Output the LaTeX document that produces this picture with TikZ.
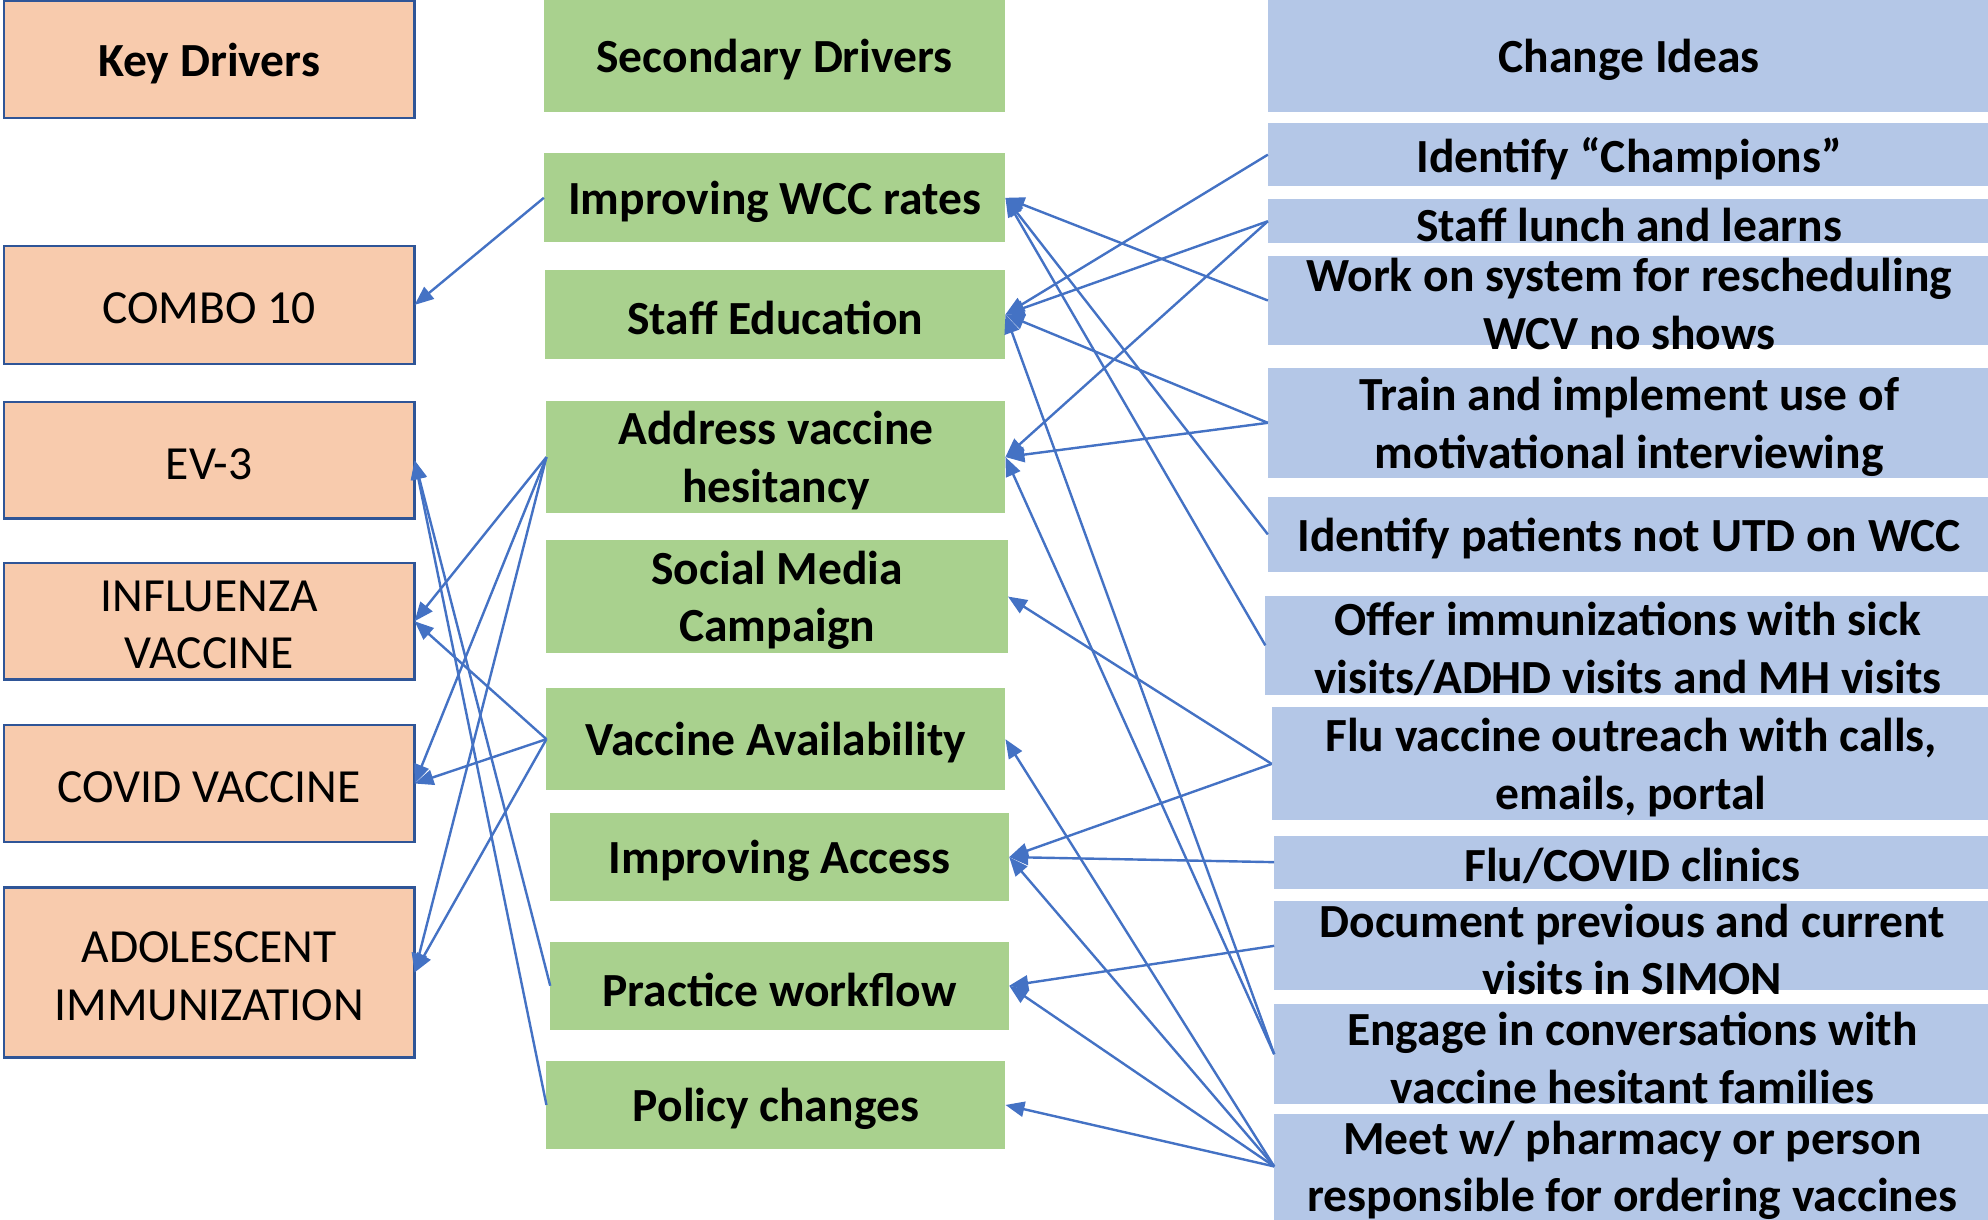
\documentclass[tikz,border=0pt]{standalone}
\usepackage{fontspec}
\setmainfont{Carlito}
\usetikzlibrary{arrows.meta}
\definecolor{peach}{HTML}{F8CBAD}
\definecolor{sgreen}{HTML}{A9D18E}
\definecolor{cblue}{HTML}{B4C7E7}
\definecolor{kborder}{HTML}{2F5597}
\definecolor{arrowblue}{HTML}{4472C4}
\begin{document}
\begin{tikzpicture}[x=1pt,y=-1pt,
  kbox/.style={draw=kborder, line width=1.8pt, fill=peach, inner sep=0pt, outer sep=0pt, minimum width=324pt},
  sbox/.style={fill=sgreen, inner sep=0pt, outer sep=0pt},
  cbox/.style={fill=cblue, inner sep=0pt, outer sep=0pt},
  ktext/.style={font=\fontsize{37.5}{45.5}\selectfont, align=center, inner sep=0pt, yshift=-3pt},
  btext/.style={font=\fontsize{37.5}{45.5}\selectfont\bfseries, align=center, inner sep=0pt, yshift=-3pt},
  conn/.style={draw=arrowblue, line width=1.9pt, -{Triangle[length=15pt,width=12pt]}}]
\useasboundingbox (0,0) rectangle (1568,961.5);
\clip (0,0) rectangle (1568,961.5);

% Key drivers
\node[kbox, minimum height=92pt, label={[btext]center:Key Drivers}] (kd) at (165,47) {};
\node[kbox, minimum height=93pt, label={[ktext]center:COMBO 10}] (combo) at (165,240.5) {};
\node[kbox, minimum height=92pt, label={[ktext]center:EV-3}] (ev) at (165,363) {};
\node[kbox, minimum height=92pt, label={[ktext]center:{INFLUENZA\\VACCINE}}] (flu) at (165,490) {};
\node[kbox, minimum height=92pt, label={[ktext]center:COVID VACCINE}] (covid) at (165,618) {};
\node[kbox, minimum height=134pt, label={[ktext]center:{ADOLESCENT\\IMMUNIZATION}}] (adol) at (165,767) {};

% Secondary drivers
\node[sbox, minimum width=364pt, minimum height=88pt, label={[btext]center:Secondary Drivers}] (sd) at (611,44) {};
\node[sbox, minimum width=364pt, minimum height=70pt, label={[btext]center:Improving WCC rates}] (wcc) at (611,156) {};
\node[sbox, minimum width=363pt, minimum height=70pt, label={[btext]center:Staff Education}] (se) at (611.5,248) {};
\node[sbox, minimum width=362pt, minimum height=89pt, label={[btext]center:{Address vaccine\\hesitancy}}] (avh) at (612,360.5) {};
\node[sbox, minimum width=364pt, minimum height=89pt, label={[btext]center:{Social Media\\Campaign}}] (smc) at (613,470.5) {};
\node[sbox, minimum width=362pt, minimum height=80pt, label={[btext]center:Vaccine Availability}] (va) at (612,583) {};
\node[sbox, minimum width=362pt, minimum height=70pt, label={[btext]center:Improving Access}] (ia) at (615,676) {};
\node[sbox, minimum width=362pt, minimum height=69pt, label={[btext]center:Practice workflow}] (pw) at (615,777.5) {};
\node[sbox, minimum width=362pt, minimum height=69pt, label={[btext]center:Policy changes}] (pc) at (612,871.5) {};

% Change ideas
\node[cbox, minimum width=570pt, minimum height=88pt, label={[btext]center:Change Ideas}] (ci) at (1285,44) {};
\node[cbox, minimum width=570pt, minimum height=50pt, label={[btext]center:Identify “Champions”}] (champ) at (1285,122) {};
\node[cbox, minimum width=570pt, minimum height=35pt, label={[btext]center:Staff lunch and learns}] (lunch) at (1285,174.5) {};
\node[cbox, minimum width=570pt, minimum height=70pt, label={[btext]center:{Work on system for rescheduling\\WCV no shows}}] (work) at (1285,237) {};
\node[cbox, minimum width=570pt, minimum height=87pt, label={[btext]center:{Train and implement use of\\motivational interviewing}}] (train) at (1285,333.5) {};
\node[cbox, minimum width=570pt, minimum height=59pt, label={[btext]center:Identify patients not UTD on WCC}] (idp) at (1285,421.5) {};
\node[cbox, minimum width=572pt, minimum height=78pt, label={[btext]center:{Offer immunizations with sick\\visits/ADHD visits and MH visits}}] (offer) at (1284,509) {};
\node[cbox, minimum width=567pt, minimum height=89pt, label={[btext]center:{Flu vaccine outreach with calls,\\emails, portal}}] (fluo) at (1286.5,602.5) {};
\node[cbox, minimum width=565pt, minimum height=42pt, label={[btext]center:Flu/COVID clinics}] (fc) at (1287.5,680) {};
\node[cbox, minimum width=565pt, minimum height=70pt, label={[btext]center:{Document previous and current\\visits in SIMON}}] (doc) at (1287.5,746) {};
\node[cbox, minimum width=565pt, minimum height=79pt, label={[btext]center:{Engage in conversations with\\vaccine hesitant families}}] (eng) at (1287.5,831.5) {};
\node[cbox, minimum width=565pt, minimum height=96pt, label={[btext, yshift=7pt]center:{Meet w/ pharmacy or person\\responsible for ordering vaccines}}] (meet) at (1287.5,927) {};

% Secondary -> Key
\draw[conn] (wcc.west) -- (combo.east);
\draw[conn] (avh.west) -- (flu.east);
\draw[conn] (avh.west) -- (covid.east);
\draw[conn] (avh.west) -- (adol.east);
\draw[conn] (va.west) -- (flu.east);
\draw[conn] (va.west) -- (covid.east);
\draw[conn] (va.west) -- (adol.east);
\draw[conn] (pw.west) -- (ev.east);
\draw[conn] (pc.west) -- (ev.east);

% Change ideas -> Secondary
\draw[conn] (champ.west) -- (se.east);
\draw[conn] (lunch.west) -- (se.east);
\draw[conn] (lunch.west) -- (avh.east);
\draw[conn] (work.west) -- (wcc.east);
\draw[conn] (train.west) -- (se.east);
\draw[conn] (train.west) -- (avh.east);
\draw[conn] (idp.west) -- (wcc.east);
\draw[conn] (offer.west) -- (wcc.east);
\draw[conn] (fluo.west) -- (smc.east);
\draw[conn] (fluo.west) -- (ia.east);
\draw[conn] (fc.west) -- (ia.east);
\draw[conn] (doc.west) -- (pw.east);
\draw[conn] (eng.west) -- (se.east);
\draw[conn] (eng.west) -- (avh.east);
\draw[conn] ([yshift=7pt]meet.west) -- (va.east);
\draw[conn] ([yshift=7pt]meet.west) -- (ia.east);
\draw[conn] ([yshift=7pt]meet.west) -- (pw.east);
\draw[conn] ([yshift=7pt]meet.west) -- (pc.east);
\end{tikzpicture}
\end{document}
